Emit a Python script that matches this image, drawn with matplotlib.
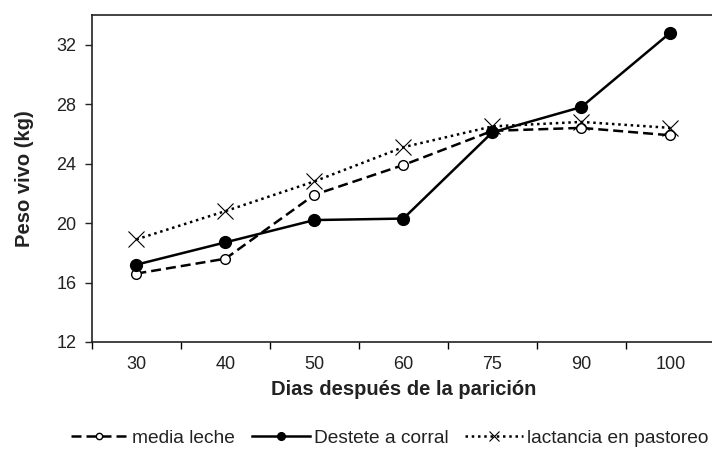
import numpy as np
import matplotlib.pyplot as plt
from matplotlib.ticker import FixedLocator

plt.rcParams['font.family'] = ['Liberation Sans', 'DejaVu Sans']

dias = ['30', '40', '50', '60', '75', '90', '100']
media_leche = [16.6, 17.6, 21.9, 23.9, 26.2, 26.4, 25.9]
destete_corral = [17.2, 18.7, 20.2, 20.3, 26.1, 27.8, 32.8]
lactancia_pastoreo = [18.9, 20.8, 22.8, 25.1, 26.5, 26.8, 26.4]

x = np.arange(len(dias))

fig = plt.figure(figsize=(7.12, 4.5), dpi=100)
ax = fig.add_axes([0.129, 0.24, 0.875, 0.727])

ax.plot(x, media_leche, color='black', lw=1.8, ls=(0, (4, 2)), marker='o',
        ms=7, mfc='white', mec='black', mew=1.0, label='media leche')
ax.plot(x, destete_corral, color='black', lw=1.8, ls='-', marker='o',
        ms=8.5, mfc='black', mec='black', label='Destete a corral')
ax.plot(x, lactancia_pastoreo, color='black', lw=1.8, ls=(0, (1, 1.5)), marker='x',
        ms=11, mew=0.8, label='lactancia en pastoreo')

ax.set_xlim(-0.5, len(dias) - 0.5)
ax.set_ylim(12, 34)
ax.set_yticks(np.arange(12, 33, 4))
ax.set_xticks(x)
ax.set_xticklabels(dias)
ax.xaxis.set_minor_locator(FixedLocator(np.arange(-0.5, len(dias), 1)))
ax.tick_params(axis='x', which='major', length=0, pad=10, labelsize=13, colors='#222222')
ax.tick_params(axis='x', which='minor', length=5, width=1, direction='out')
ax.tick_params(axis='y', length=5, width=1, direction='out', pad=6,
               labelsize=13, colors='#222222')

for s in ax.spines.values():
    s.set_color('#222222')
    s.set_linewidth(1.2)

ax.set_xlabel('Dias después de la parición', fontsize=14.5, fontweight='bold',
              color='#222222', labelpad=5)
ax.set_ylabel('Peso vivo (kg)', fontsize=14.5, fontweight='bold', color='#222222',
              labelpad=16)

leg = fig.legend(loc='center', bbox_to_anchor=(0.547, 0.027), ncol=3, frameon=False,
                 fontsize=13.8, handlelength=3.0, columnspacing=0.9, handletextpad=0.2,
                 markerscale=0.65, borderpad=0)
for t in leg.get_texts():
    t.set_color('#222222')

fig.savefig('out.png', dpi=100)
